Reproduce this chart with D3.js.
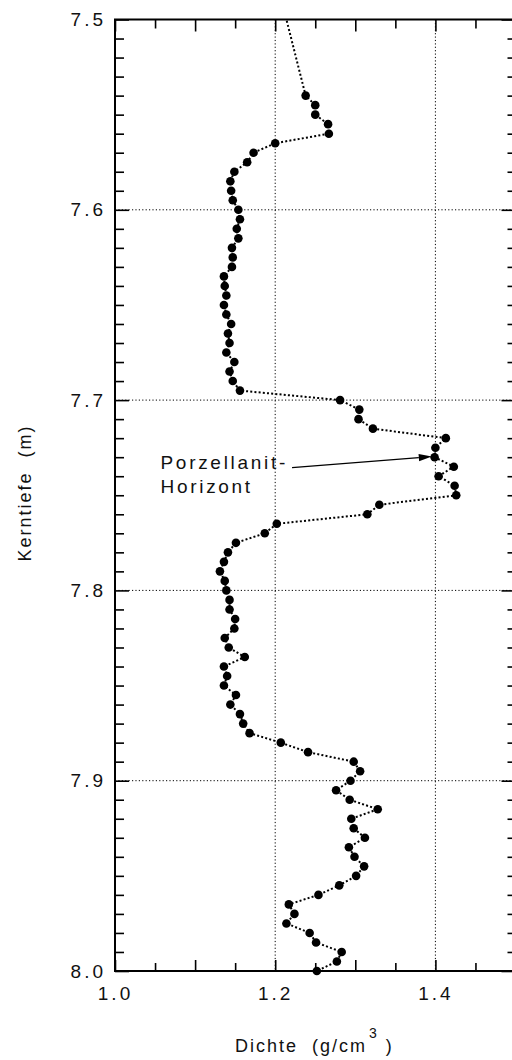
<!DOCTYPE html>
<html>
<head>
<meta charset="utf-8">
<script src="https://cdn.jsdelivr.net/npm/d3@7"></script>
<style>
  html, body { margin: 0; padding: 0; background: #fff; }
  svg { display: block; }
  text { font-family: "Liberation Sans", Arial, Helvetica, sans-serif; fill: #111; }
</style>
</head>
<body>
<svg id="chart" width="512" height="1060"></svg>
<script>
// Core depth (m) of each measurement
const depths = [
  7.490,
  7.540, 7.545, 7.550, 7.555, 7.560, 7.565, 7.570, 7.575, 7.580, 7.585,
  7.590, 7.595, 7.600, 7.605, 7.610, 7.615, 7.620, 7.625, 7.630, 7.635,
  7.640, 7.645, 7.650, 7.655, 7.660, 7.665, 7.670, 7.675, 7.680, 7.685,
  7.690, 7.695, 7.700, 7.705, 7.710, 7.715, 7.720, 7.725, 7.730, 7.735,
  7.740, 7.745, 7.750, 7.755, 7.760, 7.765, 7.770, 7.775, 7.780, 7.785,
  7.790, 7.795, 7.800, 7.805, 7.810, 7.815, 7.820, 7.825, 7.830, 7.835,
  7.840, 7.845, 7.850, 7.855, 7.860, 7.865, 7.870, 7.875, 7.880, 7.885,
  7.890, 7.895, 7.900, 7.905, 7.910, 7.915, 7.920, 7.925, 7.930, 7.935,
  7.940, 7.945, 7.950, 7.955, 7.960, 7.965, 7.970, 7.975, 7.980, 7.985,
  7.990, 7.995, 8.000
];

// Bulk density (g/cm3) at each depth
const densities = [
  1.208,
  1.238, 1.250, 1.250, 1.266, 1.267, 1.200, 1.173, 1.165, 1.149, 1.144,
  1.145, 1.147, 1.154, 1.156, 1.152, 1.154, 1.146, 1.147, 1.146, 1.136,
  1.137, 1.139, 1.136, 1.139, 1.145, 1.141, 1.143, 1.139, 1.149, 1.143,
  1.147, 1.156, 1.281, 1.305, 1.304, 1.322, 1.413, 1.400, 1.399, 1.423,
  1.404, 1.424, 1.426, 1.330, 1.315, 1.202, 1.187, 1.151, 1.141, 1.136,
  1.131, 1.137, 1.139, 1.143, 1.143, 1.150, 1.149, 1.137, 1.142, 1.162,
  1.136, 1.140, 1.136, 1.151, 1.144, 1.156, 1.160, 1.168, 1.207, 1.241,
  1.298, 1.306, 1.294, 1.276, 1.293, 1.328, 1.295, 1.298, 1.312, 1.292,
  1.299, 1.311, 1.301, 1.280, 1.254, 1.217, 1.224, 1.214, 1.243, 1.251,
  1.283, 1.277, 1.252
];

const xDomain = [1.0, 1.5];
const yDomain = [7.5, 8.0];
const xLabelTicks = [1.0, 1.2, 1.4];
const xMajorTicks = [1.0, 1.1, 1.2, 1.3, 1.4, 1.5];
const xMinorTicks = [1.05, 1.15, 1.25, 1.35, 1.45];
const yLabelTicks = [7.5, 7.6, 7.7, 7.8, 7.9, 8.0];
const xGrid = [1.2, 1.4];
const yGrid = [7.6, 7.7, 7.8, 7.9];

// Annotation: label lines and arrow from (depth, density) to (depth, density)
const noteLines = ["Porzellanit-", "Horizont"];
const noteArrowFrom = [7.7355, 1.221];
const noteArrowTo = [7.7297, 1.3955];

const xTitle = "Dichte\u00a0\u00a0(g/cm";
const yTitle = "Kerntiefe\u00a0\u00a0(m)";

const svg = d3.select("#chart");
svg.append("rect").attr("width", 512).attr("height", 1060).attr("fill", "#fff");

const plot = { left: 115, right: 515.5, top: 19.5, bottom: 971 };

const x = d3.scaleLinear().domain(xDomain).range([plot.left, plot.right]);
const y = d3.scaleLinear().domain(yDomain).range([plot.top, plot.bottom]);

const fmt = d3.format(".1f");

// Grid lines
const grid = svg.append("g")
  .attr("stroke", "#000").attr("stroke-width", 1)
  .attr("stroke-dasharray", "1.2,2.2").attr("fill", "none");
grid.selectAll("line.gx").data(xGrid).join("line")
  .attr("x1", d => x(d)).attr("x2", d => x(d))
  .attr("y1", plot.top).attr("y2", plot.bottom);
grid.selectAll("line.gy").data(yGrid).join("line")
  .attr("y1", d => y(d)).attr("y2", d => y(d))
  .attr("x1", plot.left).attr("x2", plot.right);

function styleAxis(g) {
  g.select(".domain").remove();
  g.selectAll(".tick line").attr("stroke", "#000").attr("stroke-width", 1.6);
  g.selectAll(".tick text")
    .style("font-size", "19px")
    .style("letter-spacing", "3px")
    .attr("fill", "#111");
}

// Bottom axis: inward ticks, labels at 1.0 / 1.2 / 1.4
svg.append("g").attr("transform", `translate(0,${plot.bottom})`)
  .call(d3.axisBottom(x).tickValues(xMinorTicks).tickSize(-8).tickFormat(""))
  .call(styleAxis);
svg.append("g").attr("transform", `translate(0,${plot.bottom})`)
  .call(d3.axisBottom(x).tickValues(xMajorTicks).tickSize(-11)
    .tickFormat(d => xLabelTicks.some(v => Math.abs(v - d) < 1e-9) ? fmt(d) : "")
    .tickPadding(15.5))
  .call(styleAxis);

// Top axis: inward ticks, no labels
svg.append("g").attr("transform", `translate(0,${plot.top})`)
  .call(d3.axisTop(x).tickValues(xMinorTicks).tickSize(-9).tickFormat(""))
  .call(styleAxis);
svg.append("g").attr("transform", `translate(0,${plot.top})`)
  .call(d3.axisTop(x).tickValues(xMajorTicks).tickSize(-12).tickFormat(""))
  .call(styleAxis);

// Left axis: a tick every centimetre, longer at each decimetre
const yMinor = d3.range(51).map(i => 7.5 + i * 0.01).filter((d, i) => i % 10 !== 0);
svg.append("g").attr("transform", `translate(${plot.left},0)`)
  .call(d3.axisLeft(y).tickValues(yMinor).tickSize(-9).tickFormat(""))
  .call(styleAxis);
svg.append("g").attr("transform", `translate(${plot.left},0)`)
  .call(d3.axisLeft(y).tickValues(yLabelTicks).tickSize(-14).tickFormat(fmt).tickPadding(9))
  .call(styleAxis);

// Right axis: same ticks, pointing inward
svg.append("g").attr("transform", `translate(${plot.right},0)`)
  .call(d3.axisRight(y).tickValues(yMinor).tickSize(-8).tickFormat(""))
  .call(styleAxis);
svg.append("g").attr("transform", `translate(${plot.right},0)`)
  .call(d3.axisRight(y).tickValues(yLabelTicks).tickSize(-14).tickFormat(""))
  .call(styleAxis);

// Frame
svg.append("rect")
  .attr("x", plot.left).attr("y", plot.top)
  .attr("width", plot.right - plot.left).attr("height", plot.bottom - plot.top)
  .attr("fill", "none").attr("stroke", "#000").attr("stroke-width", 2);

// Density profile
svg.append("clipPath").attr("id", "plot-clip")
  .append("rect")
  .attr("x", plot.left).attr("y", plot.top)
  .attr("width", plot.right - plot.left).attr("height", plot.bottom - plot.top + 6);

const pts = depths.map((d, i) => ({ depth: d, dens: densities[i] }));
const profile = svg.append("g").attr("clip-path", "url(#plot-clip)");

profile.append("path")
  .datum(pts)
  .attr("d", d3.line().x(d => x(d.dens)).y(d => y(d.depth)))
  .attr("fill", "none").attr("stroke", "#000")
  .attr("stroke-width", 2).attr("stroke-dasharray", "2,2.2");

profile.selectAll("circle").data(pts.filter(d => d.depth >= yDomain[0])).join("circle")
  .attr("cx", d => x(d.dens)).attr("cy", d => y(d.depth))
  .attr("r", 4.3).attr("fill", "#000");

// Annotation
const note = svg.append("text")
  .attr("x", 160.5).attr("y", 469)
  .style("font-size", "19px").style("letter-spacing", "2.7px");
note.selectAll("tspan").data(noteLines).join("tspan")
  .attr("x", 160.5).attr("dy", (d, i) => i === 0 ? 0 : 24).text(d => d);

const ax0 = x(noteArrowFrom[1]), ay0 = y(noteArrowFrom[0]);
const ax1 = x(noteArrowTo[1]), ay1 = y(noteArrowTo[0]);
const ang = Math.atan2(ay1 - ay0, ax1 - ax0);
const headLen = 13, headHalf = 3.6;
const bx = ax1 - headLen * Math.cos(ang), by = ay1 - headLen * Math.sin(ang);
svg.append("line")
  .attr("x1", ax0).attr("y1", ay0).attr("x2", bx).attr("y2", by)
  .attr("stroke", "#000").attr("stroke-width", 1.3);
svg.append("path")
  .attr("d", `M${ax1},${ay1}L${bx - headHalf * Math.sin(ang)},${by + headHalf * Math.cos(ang)}L${bx + headHalf * Math.sin(ang)},${by - headHalf * Math.cos(ang)}Z`)
  .attr("fill", "#000");

// Axis titles
const xt = svg.append("text")
  .attr("x", 235).attr("y", 1051.5)
  .style("font-size", "18px").style("letter-spacing", "2px")
  .style("white-space", "pre");
xt.append("tspan").text(xTitle);
xt.append("tspan").attr("dx", 2).attr("dy", -14).style("font-size", "14px").text("3");
xt.append("tspan").attr("dy", 14).text("\u00a0)");

svg.append("text")
  .attr("transform", "translate(31,493) rotate(-90)")
  .attr("text-anchor", "middle")
  .style("font-size", "18px").style("letter-spacing", "2px")
  .text(yTitle);
</script>
</body>
</html>
